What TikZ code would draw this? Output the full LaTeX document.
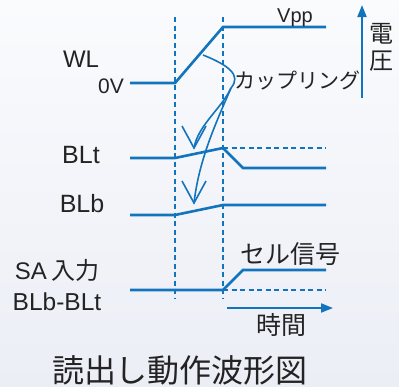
\documentclass[tikz,border=0pt]{standalone}
\usepackage{fontspec}
\setmainfont{Liberation Sans}
\newfontfamily\jp{Noto Sans CJK JP}
\usetikzlibrary{arrows.meta}
\definecolor{wave}{RGB}{18,116,188}
\definecolor{txt}{RGB}{35,35,35}
\definecolor{bgtop}{RGB}{250,251,253}
\definecolor{bgbot}{RGB}{236,238,246}
\begin{document}
\begin{tikzpicture}[x=1pt,y=-1pt,
  sig/.style={draw=wave,line width=2.6pt,line join=miter},
  ref/.style={draw=wave,line width=1.5pt,dash pattern=on 5pt off 3.5pt},
  cpl/.style={draw=wave,line width=1.6pt},
  axis/.style={draw=wave,line width=1.8pt,-{Triangle[length=12pt,width=9pt]}},
  lbl/.style={text=txt,inner sep=0pt}]
\shade[top color=bgtop,bottom color=bgbot] (0,0) rectangle (399,386);
\useasboundingbox (0,0) rectangle (399,386);
% dashed time markers
\draw[ref] (175,17) -- (175,298);
\draw[ref] (223,17) -- (223,298);
% WL
\draw[sig] (130,83) -- (175,83) -- (223,27) -- (326,27);
% BLt
\draw[ref] (223,148) -- (326,148);
\draw[sig] (130,158) -- (175,158) -- (223,148) -- (243,168) -- (326,168);
% BLb
\draw[sig] (130,215) -- (175,215) -- (223,205) -- (326,205);
% SA input
\draw[ref] (223,290) -- (326,290);
\draw[sig] (130,290) -- (223,290) -- (243,270) -- (326,270);
% axes
\coordinate (vb) at (362,98); \coordinate (vt) at (362,5);
\draw[axis] (vb) -- (vt);
\coordinate (tl) at (227,308); \coordinate (tr) at (333,308);
\draw[axis] (tl) -- (tr);
% coupling arrows
\coordinate (cs) at (203,55);
\coordinate (cb) at (231,88);
\coordinate (ca) at (194,148);
\coordinate (cc) at (194,203);
\draw[cpl] (cs) .. controls (228,65) and (242,75) .. (cb);
\draw[cpl] (cb) .. controls (222,108) and (198,125) .. (ca);
\draw[cpl] (cb) .. controls (215,125) and (199,160) .. (cc);
\draw[cpl,line join=miter] (ca) ++(-12,-22) -- (ca) -- ++(12,-22);
\draw[cpl,line join=miter] (cc) ++(-12,-22) -- (cc) -- ++(12,-22);
% labels
\node[lbl,font=\fontsize{20}{21}\selectfont,anchor=base] (vpp) at (295,22) {Vpp};
\node[lbl,font=\fontsize{24}{25}\selectfont,anchor=base] (wl) at (81,67) {WL};
\node[lbl,font=\fontsize{21}{22}\selectfont,anchor=base] (ov) at (111,93) {0V};
\node[lbl,font=\fontsize{25}{26}\selectfont,anchor=base] (blt) at (81,163) {BLt};
\node[lbl,font=\fontsize{25}{26}\selectfont,anchor=base] (blb) at (82,212) {BLb};
\node[lbl,font=\fontsize{24}{25}\selectfont,anchor=base] (sa) at (57,279) {SA\,{\jp 入力}};
\node[lbl,font=\fontsize{24.5}{25}\selectfont,anchor=base] (diff) at (57,310) {BLb-BLt};
\node[lbl,font=\jp\fontsize{21}{22}\selectfont] (cp) at (297,80) {カップリング};
\node[lbl,font=\jp\fontsize{24}{25}\selectfont] (den) at (381,34) {電};
\node[lbl,font=\jp\fontsize{24}{25}\selectfont] (atsu) at (381,61) {圧};
\node[lbl,font=\jp\fontsize{25}{26}\selectfont] (cell) at (290,254) {セル信号};
\node[lbl,font=\jp\fontsize{25}{26}\selectfont] (time) at (281,325) {時間};
\node[lbl,font=\jp\fontsize{32}{33}\selectfont] (title) at (180,370) {読出し動作波形図};
\end{tikzpicture}
\end{document}
